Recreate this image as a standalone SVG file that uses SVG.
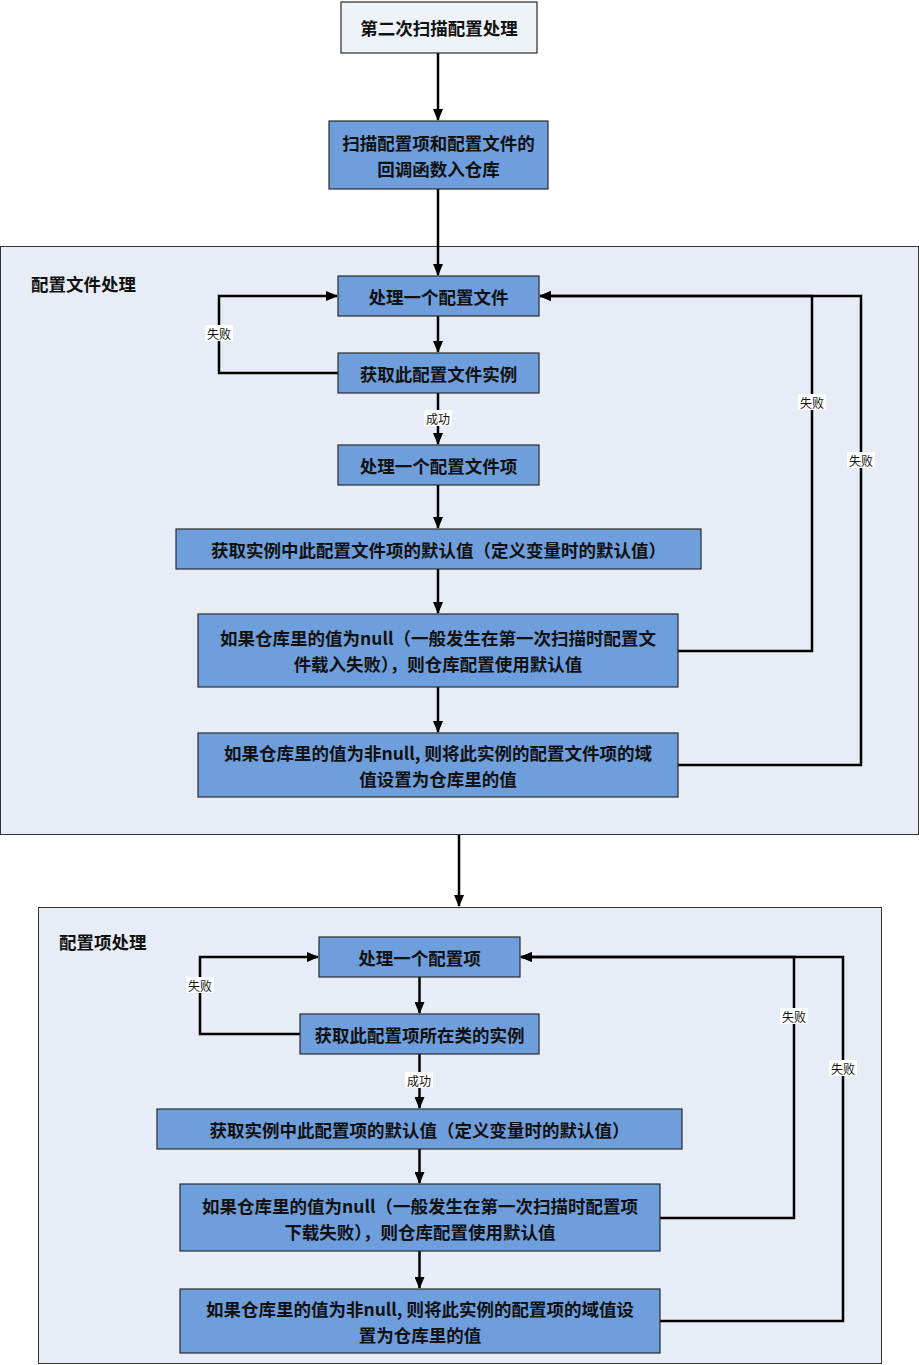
<svg xmlns="http://www.w3.org/2000/svg" width="919" height="1365" viewBox="0 0 919 1365">
<defs>
<style>
.cont{fill:#e7edf7;stroke:#333;stroke-width:1}
.box{fill:#6f9edc;stroke:#2a2a2a;stroke-width:1.2}
.start{fill:#eef2f9;stroke:#2a2a2a;stroke-width:1.2}
.t{font-family:"Noto Sans CJK SC","Noto Sans",sans-serif;font-size:17.5px;font-weight:bold;fill:#111;text-anchor:middle;dominant-baseline:central}
.ct{font-family:"Noto Sans CJK SC","Noto Sans",sans-serif;font-size:17.5px;font-weight:bold;fill:#111;dominant-baseline:central}
.ln{fill:none;stroke:#000;stroke-width:2.5}
.lbbg{fill:#fff}
.lb{font-family:"Noto Sans CJK SC",serif;font-size:12px;fill:#111;text-anchor:middle;dominant-baseline:central}
</style>
<marker id="ah" markerWidth="12" markerHeight="10" refX="11" refY="5" orient="auto" markerUnits="userSpaceOnUse">
<path d="M0,0 L12,5 L0,10 Z" fill="#000"/>
</marker>
</defs>
<rect x="0" y="0" width="919" height="1365" fill="#fff"/>
<g id="container1">
<rect class="cont" x="0.5" y="246.5" width="918" height="588"/>
<text class="ct" x="31" y="283">配置文件处理</text>
</g>
<g id="container2">
<rect class="cont" x="38.5" y="907.5" width="843" height="456"/>
<text class="ct" x="59" y="941">配置项处理</text>
</g>
<g id="connectors">
<line class="ln" x1="438" y1="53" x2="438" y2="120" marker-end="url(#ah)"/>
<line class="ln" x1="438" y1="189" x2="438" y2="275" marker-end="url(#ah)"/>
<line class="ln" x1="438" y1="316" x2="438" y2="352" marker-end="url(#ah)"/>
<polyline class="ln" points="338,373 219,373 219,296 337,296" marker-end="url(#ah)"/>
<line class="ln" x1="438" y1="393" x2="438" y2="444" marker-end="url(#ah)"/>
<line class="ln" x1="438" y1="485" x2="438" y2="528" marker-end="url(#ah)"/>
<line class="ln" x1="438" y1="569" x2="438" y2="613" marker-end="url(#ah)"/>
<line class="ln" x1="438" y1="687" x2="438" y2="732" marker-end="url(#ah)"/>
<polyline class="ln" points="678,651 812,651 812,296 540,296" marker-end="url(#ah)"/>
<polyline class="ln" points="678,765 861,765 861,296 540,296" marker-end="url(#ah)"/>
<line class="ln" x1="459" y1="835" x2="459" y2="906" marker-end="url(#ah)"/>
<line class="ln" x1="419.5" y1="977" x2="419.5" y2="1013" marker-end="url(#ah)"/>
<polyline class="ln" points="300,1034 200,1034 200,957 318,957" marker-end="url(#ah)"/>
<line class="ln" x1="419.5" y1="1054" x2="419.5" y2="1108" marker-end="url(#ah)"/>
<line class="ln" x1="419.5" y1="1149" x2="419.5" y2="1183" marker-end="url(#ah)"/>
<line class="ln" x1="419.5" y1="1251" x2="419.5" y2="1288" marker-end="url(#ah)"/>
<polyline class="ln" points="660,1218 794,1218 794,957 521,957" marker-end="url(#ah)"/>
<polyline class="ln" points="660,1321 843,1321 843,957 521,957" marker-end="url(#ah)"/>
<rect class="lbbg" x="205" y="325" width="28" height="16"/><text class="lb" x="219" y="333">失败</text>
<rect class="lbbg" x="424" y="410" width="28" height="16"/><text class="lb" x="438" y="418">成功</text>
<rect class="lbbg" x="798" y="394" width="28" height="16"/><text class="lb" x="812" y="402">失败</text>
<rect class="lbbg" x="847" y="452" width="28" height="16"/><text class="lb" x="861" y="460">失败</text>
<rect class="lbbg" x="186" y="977" width="28" height="16"/><text class="lb" x="200" y="985">失败</text>
<rect class="lbbg" x="405" y="1072" width="28" height="16"/><text class="lb" x="419" y="1080">成功</text>
<rect class="lbbg" x="780" y="1008" width="28" height="16"/><text class="lb" x="794" y="1016">失败</text>
<rect class="lbbg" x="829" y="1060" width="28" height="16"/><text class="lb" x="843" y="1068">失败</text>
</g>
<g id="start">
<rect class="start" x="341" y="2" width="196" height="51"/>
<text class="t" x="439" y="27">第二次扫描配置处理</text>
</g>
<g id="n2">
<rect class="box" x="329" y="121" width="219" height="68"/>
<text class="t" x="438.5" y="142">扫描配置项和配置文件的</text>
<text class="t" x="438.5" y="168">回调函数入仓库</text>
</g>
<g id="a1">
<rect class="box" x="338" y="276" width="201" height="40"/>
<text class="t" x="438.5" y="296">处理一个配置文件</text>
</g>
<g id="a2">
<rect class="box" x="338" y="353" width="201" height="40"/>
<text class="t" x="438.5" y="373">获取此配置文件实例</text>
</g>
<g id="a3">
<rect class="box" x="338" y="445" width="201" height="40"/>
<text class="t" x="438.5" y="465">处理一个配置文件项</text>
</g>
<g id="a4">
<rect class="box" x="176" y="529" width="525" height="40"/>
<text class="t" x="438.5" y="549">获取实例中此配置文件项的默认值（定义变量时的默认值）</text>
</g>
<g id="a5">
<rect class="box" x="198" y="614" width="480" height="73"/>
<text class="t" x="438" y="637">如果仓库里的值为null（一般发生在第一次扫描时配置文</text>
<text class="t" x="438" y="663">件载入失败），则仓库配置使用默认值</text>
</g>
<g id="a6">
<rect class="box" x="198" y="733" width="480" height="64"/>
<text class="t" x="438" y="752">如果仓库里的值为非null, 则将此实例的配置文件项的域</text>
<text class="t" x="438" y="778">值设置为仓库里的值</text>
</g>
<g id="b1">
<rect class="box" x="319" y="937" width="201" height="40"/>
<text class="t" x="419.5" y="957">处理一个配置项</text>
</g>
<g id="b2">
<rect class="box" x="300" y="1014" width="239" height="40"/>
<text class="t" x="419.5" y="1034">获取此配置项所在类的实例</text>
</g>
<g id="b3">
<rect class="box" x="157" y="1109" width="525" height="40"/>
<text class="t" x="419.5" y="1129">获取实例中此配置项的默认值（定义变量时的默认值）</text>
</g>
<g id="b4">
<rect class="box" x="180" y="1184" width="480" height="67"/>
<text class="t" x="420" y="1205">如果仓库里的值为null（一般发生在第一次扫描时配置项</text>
<text class="t" x="420" y="1231">下载失败），则仓库配置使用默认值</text>
</g>
<g id="b5">
<rect class="box" x="180" y="1289" width="480" height="64"/>
<text class="t" x="420" y="1308">如果仓库里的值为非null, 则将此实例的配置项的域值设</text>
<text class="t" x="420" y="1334">置为仓库里的值</text>
</g>
</svg>
